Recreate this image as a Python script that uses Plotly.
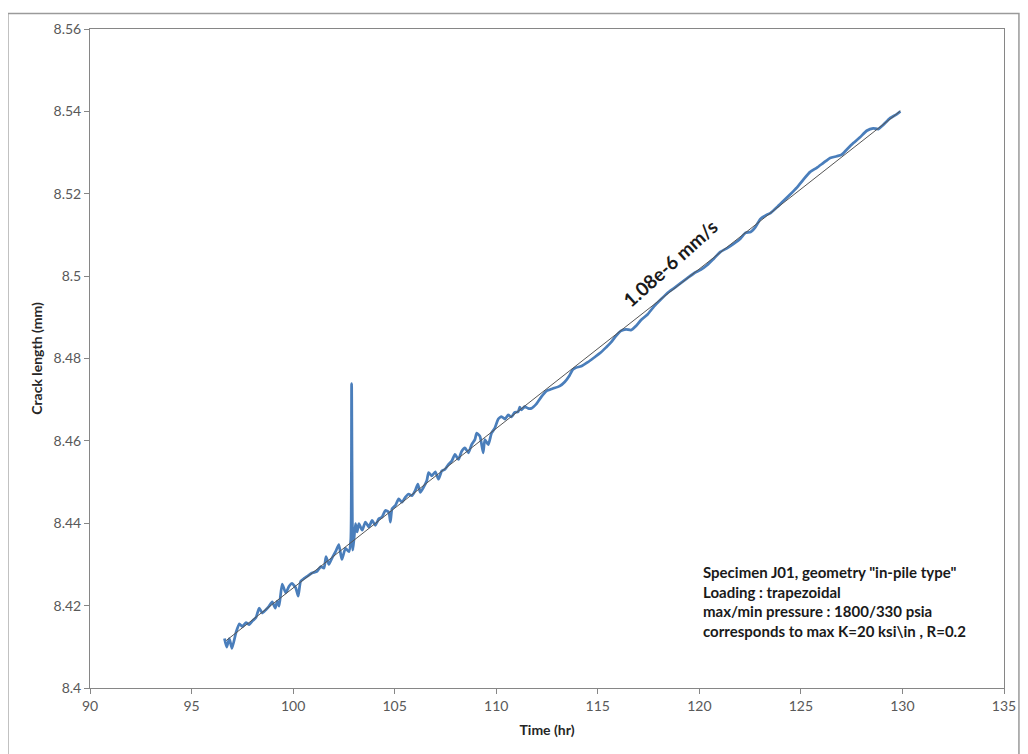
import plotly.graph_objects as go

# ---- data ----
time_hr = [
    96.62, 96.73, 96.86, 96.99, 97.19, 97.35, 97.50, 97.68, 97.84, 98.00,
    98.17, 98.33, 98.48, 98.66, 98.82, 98.97, 99.12, 99.22, 99.31, 99.46,
    99.64, 99.80, 99.95, 100.13, 100.25, 100.37, 100.54, 100.69, 100.93, 101.18,
    101.36, 101.52, 101.62, 101.76, 101.91, 102.09, 102.25, 102.40, 102.58, 102.75,
    102.84, 102.88, 102.94, 103.00, 103.07, 103.15, 103.24, 103.40, 103.56, 103.73,
    103.89, 104.05, 104.22, 104.38, 104.54, 104.71, 104.79, 104.87, 105.03, 105.20,
    105.36, 105.52, 105.69, 105.85, 106.01, 106.14, 106.26, 106.42, 106.58, 106.67,
    106.83, 107.00, 107.16, 107.32, 107.48, 107.65, 107.81, 107.97, 108.14, 108.30,
    108.46, 108.63, 108.79, 108.95, 109.04, 109.20, 109.36, 109.44, 109.61, 109.77,
    109.93, 110.10, 110.26, 110.43, 110.59, 110.75, 110.91, 111.08, 111.16, 111.24,
    111.40, 111.57, 111.73, 111.98, 112.22, 112.47, 112.79, 113.12, 113.37, 113.61,
    113.77, 113.94, 114.18, 114.51, 114.84, 115.16, 115.41, 115.65, 115.90, 116.14,
    116.39, 116.63, 116.88, 117.12, 117.45, 117.78, 118.10, 118.43, 118.76, 119.08,
    119.41, 119.74, 120.06, 120.39, 120.72, 121.04, 121.37, 121.70, 122.02, 122.27,
    122.52, 122.76, 123.01, 123.25, 123.50, 123.82, 124.15, 124.48, 124.80, 125.13,
    125.46, 125.78, 126.11, 126.44, 126.76, 127.01, 127.25, 127.58, 127.91, 128.24,
    128.56, 128.81, 129.05, 129.38, 129.71, 129.90,
]
crack_mm = [
    8.4120, 8.4099, 8.4120, 8.4096, 8.4135, 8.4156, 8.4149, 8.4159, 8.4154, 8.4163,
    8.4171, 8.4194, 8.4182, 8.4190, 8.4199, 8.4209, 8.4194, 8.4211, 8.4199, 8.4252,
    8.4231, 8.4247, 8.4254, 8.4243, 8.4223, 8.4259, 8.4266, 8.4271, 8.4279, 8.4283,
    8.4295, 8.4291, 8.4319, 8.4300, 8.4315, 8.4331, 8.4348, 8.4312, 8.4339, 8.4331,
    8.4360, 8.4739, 8.4335, 8.4363, 8.4399, 8.4379, 8.4399, 8.4383, 8.4403, 8.4391,
    8.4407, 8.4395, 8.4411, 8.4415, 8.4431, 8.4427, 8.4403, 8.4435, 8.4443, 8.4459,
    8.4451, 8.4463, 8.4471, 8.4467, 8.4479, 8.4495, 8.4475, 8.4487, 8.4503, 8.4523,
    8.4515, 8.4525, 8.4507, 8.4527, 8.4531, 8.4543, 8.4551, 8.4567, 8.4555, 8.4575,
    8.4583, 8.4571, 8.4591, 8.4603, 8.4619, 8.4611, 8.4571, 8.4603, 8.4591, 8.4619,
    8.4631, 8.4653, 8.4659, 8.4653, 8.4663, 8.4658, 8.4669, 8.4671, 8.4682, 8.4675,
    8.4683, 8.4679, 8.4679, 8.4690, 8.4707, 8.4721, 8.4727, 8.4733, 8.4743, 8.4759,
    8.4773, 8.4778, 8.4781, 8.4791, 8.4803, 8.4815, 8.4827, 8.4839, 8.4855, 8.4867,
    8.4871, 8.4869, 8.4879, 8.4893, 8.4907, 8.4927, 8.4943, 8.4959, 8.4971, 8.4983,
    8.4995, 8.5007, 8.5015, 8.5027, 8.5043, 8.5059, 8.5068, 8.5079, 8.5091, 8.5105,
    8.5107, 8.5119, 8.5139, 8.5147, 8.5153, 8.5167, 8.5183, 8.5199, 8.5215, 8.5235,
    8.5253, 8.5263, 8.5275, 8.5287, 8.5291, 8.5295, 8.5307, 8.5323, 8.5337, 8.5353,
    8.5359, 8.5357, 8.5367, 8.5383, 8.5393, 8.5400,
]
trend_time = [96.7, 129.9]
trend_crack = [8.4115, 8.5401]

x_ticks = [90, 95, 100, 105, 110, 115, 120, 125, 130, 135]
y_ticks = [8.4, 8.42, 8.44, 8.46, 8.48, 8.5, 8.52, 8.54, 8.56]
y_tick_text = ["8.4", "8.42", "8.44", "8.46", "8.48", "8.5", "8.52", "8.54", "8.56"]

rate_label = "1.08e-6 mm/s"
info_lines = [
    'Specimen J01, geometry "in-pile type"',
    "Loading : trapezoidal",
    "max/min pressure : 1800/330 psia",
    "corresponds to max K=20 ksi\\in , R=0.2",
]

FONT = "Lato, 'Open Sans', sans-serif"
AXIS_COL = "#868686"

fig = go.Figure()
fig.add_trace(go.Scatter(
    x=time_hr, y=crack_mm, mode="lines",
    line=dict(color="#4A7EBB", width=2.75, shape="spline", smoothing=0.5),
    showlegend=False, hoverinfo="x+y",
))
fig.add_trace(go.Scatter(
    x=trend_time, y=trend_crack, mode="lines",
    line=dict(color="#555555", width=1),
    showlegend=False,
))

# page has 8px body margin -> figure origin is at page (8, 8)
OFF = 8
W, H = 1020, 746
L, R, T, B = 82, 20, 16, 66
pw, ph = W - L - R, H - T - B

fig.update_layout(
    width=W, height=H,
    margin=dict(l=L, r=R, t=T, b=B, pad=0),
    paper_bgcolor="white", plot_bgcolor="white",
    font=dict(family=FONT, size=14, color="#595959"),
    xaxis=dict(
        range=[90, 135], tickvals=x_ticks, ticktext=[str(v) for v in x_ticks],
        showgrid=False, zeroline=False, showline=True, linecolor=AXIS_COL, linewidth=1,
        mirror=True, ticks="outside", ticklen=5, tickcolor=AXIS_COL,
        title=dict(text="<b>Time (hr)</b>", font=dict(size=14, color="#262626", family=FONT), standoff=12),
        tickfont=dict(size=14, color="#595959"),
    ),
    yaxis=dict(
        range=[8.4, 8.56], tickvals=y_ticks, ticktext=y_tick_text,
        showgrid=False, zeroline=False, showline=True, linecolor=AXIS_COL, linewidth=1,
        mirror=True, ticks="outside", ticklen=5, tickcolor=AXIS_COL,
        title=dict(text="<b>Crack length (mm)</b>", font=dict(size=14, color="#262626", family=FONT), standoff=7),
        tickfont=dict(size=14, color="#595959"),
    ),
)

# convert page pixel positions to paper coords
def px_x(p):
    return (p - OFF - L) / pw
def px_y(p):
    return 1 - (p - OFF - T) / ph

fig.add_shape(type="rect", xref="paper", yref="paper",
              x0=px_x(7.5), x1=px_x(1023), y0=px_y(770), y1=px_y(8.5),
              line=dict(color="#9a9a9a", width=1.5), fillcolor="rgba(0,0,0,0)", layer="below")

# rate annotation
fig.add_annotation(x=118.6, y=8.5032, xref="x", yref="y", text=f"<b>{rate_label}</b>",
                   showarrow=False, textangle=-42, font=dict(size=19, color="#1a1a1a", family=FONT))

# info text box
fig.add_annotation(x=px_x(704), y=px_y(560), xref="paper", yref="paper",
                   xanchor="left", yanchor="top", align="left", showarrow=False,
                   text="<br>".join(f"<b>{t}</b>" for t in info_lines),
                   font=dict(size=15, color="#1a1a1a", family=FONT))

fig.write_html("out.html")
